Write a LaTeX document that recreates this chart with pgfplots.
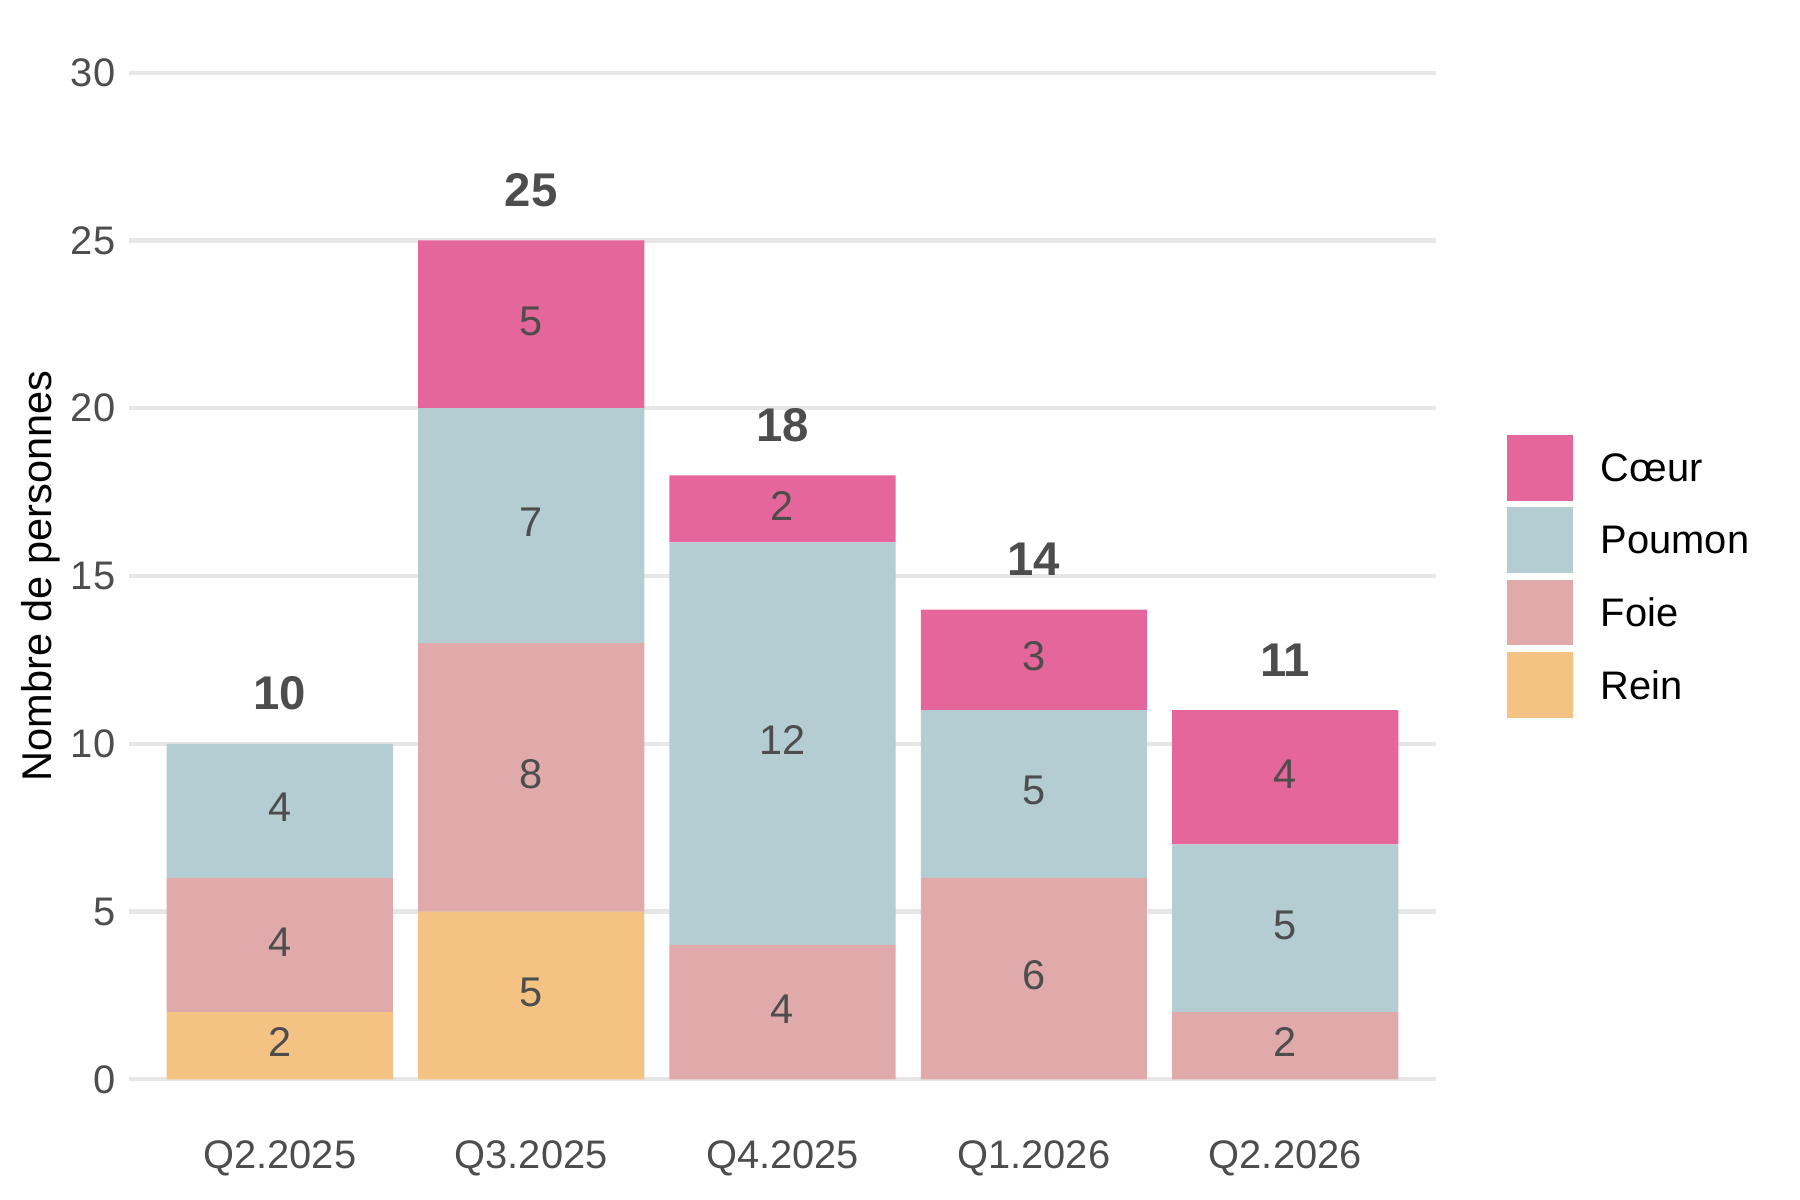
\documentclass[border=0pt]{standalone}
\usepackage{pgfplots}
\pgfplotsset{compat=1.18}
\usepackage{pgfplotstable}
\usepackage{fontspec}
\setmainfont{Liberation Sans}
\definecolor{coeur}{HTML}{E5669A}
\definecolor{poumon}{HTML}{B4CDD2}
\definecolor{foie}{HTML}{E0AAAA}
\definecolor{rein}{HTML}{F4C384}
\definecolor{txtgray}{HTML}{4D4D4D}
\definecolor{gridgray}{HTML}{E6E6E6}

\pgfplotstableread{
x rein foie poumon coeur
0 2 4 4 0
1 5 8 7 5
2 0 4 12 2
3 0 6 5 3
4 0 2 5 4
}\bars

\pgfplotstableread{
x y lab
0 1 2
0 4 4
0 8 4
1 2.5 5
1 9 8
1 16.5 7
1 22.5 5
2 2 4
2 10 12
2 17 2
3 3 6
3 8.5 5
3 12.5 3
4 1 2
4 4.5 5
4 9 4
}\seglabels

\pgfplotstableread{
x y lab
0 11.5 10
1 26.5 25
2 19.5 18
3 15.5 14
4 12.5 11
}\totals

\pgfplotsset{sqlegend/.style={legend image code/.code={\fill[##1] (0pt,-7.915pt) rectangle (15.9pt,7.915pt); \path (22.65pt,0pt);}}}

\begin{document}
\begin{tikzpicture}
\pgfplotsset{common/.style={scale only axis, width=314.86pt, height=242.49pt,
  xmin=-0.6, xmax=4.6, ymin=0, ymax=30, at={(0,0)}, anchor=south west, clip=false}}
\begin{axis}[common, ybar stacked, bar width=0.9,
  axis line style={draw=none}, tick style={draw=none},
  ymajorgrids, grid style={gridgray, line width=1pt},
  xtick={0,...,4}, xticklabels={Q2.2025,Q3.2025,Q4.2025,Q1.2026,Q2.2026},
  ytick={0,5,...,30},
  ticklabel style={font=\fontsize{9.6}{11}\selectfont, text=txtgray, inner sep=0pt},
  xticklabel style={anchor=base, yshift=-21.44pt},
  yticklabel style={anchor=east, xshift=-3.1pt},
  /pgf/number format/assume math mode=true,
  ylabel={Nombre de personnes},
  ylabel style={at={(axis description cs:-0.0677,0.5)}, anchor=center, font=\fontsize{10}{12}\selectfont, inner sep=0pt},
  legend style={at={(axis description cs:1.05409,0.64007)}, anchor=north west, draw=none, fill=none,
    inner sep=0pt, outer sep=0pt, row sep=1.59pt, nodes={inner sep=0pt, text depth=0pt}, font=\fontsize{9.6}{11}\selectfont},
  legend cell align=left, reverse legend,
]
\addplot[fill=rein, draw=none, sqlegend] table[x=x, y=rein]{\bars};
\addlegendentry{Rein}
\addplot[fill=foie, draw=none, sqlegend] table[x=x, y=foie]{\bars};
\addlegendentry{Foie}
\addplot[fill=poumon, draw=none, sqlegend] table[x=x, y=poumon]{\bars};
\addlegendentry{Poumon}
\addplot[fill=coeur, draw=none, sqlegend] table[x=x, y=coeur]{\bars};
\addlegendentry{Cœur}
\end{axis}
\begin{axis}[common, hide axis]
\addplot[draw=none, mark=none, nodes near coords, point meta=explicit symbolic,
  every node near coord/.append style={anchor=center, yshift=0.8pt, font=\fontsize{10}{12}\selectfont, text=txtgray, inner sep=0pt}]
  table[x=x, y=y, meta=lab]{\seglabels};
\addplot[draw=none, mark=none, nodes near coords, point meta=explicit symbolic,
  every node near coord/.append style={anchor=center, font=\bfseries\fontsize{11.4}{13}\selectfont, text=txtgray, inner sep=0pt}]
  table[x=x, y=y, meta=lab]{\totals};
\end{axis}
\pgfresetboundingbox
\useasboundingbox (-31.08pt,-29.08pt) rectangle (402.54pt,260.00pt);
\end{tikzpicture}
\end{document}
